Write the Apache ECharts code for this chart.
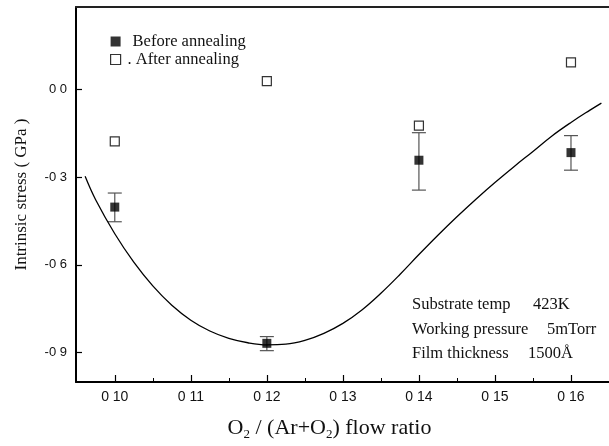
<!DOCTYPE html>
<html>
<head>
<meta charset="utf-8">
<style>
  html, body { margin: 0; padding: 0; background: #fff; }
  #chart { width: 609px; height: 446px; }
</style>
<script src="https://cdn.jsdelivr.net/npm/echarts@6/dist/echarts.min.js"></script>
</head>
<body>
<div id="chart"></div>
<script>
// O2 flow ratio for the measured samples
var ratios = [0.10, 0.12, 0.14, 0.16]
var beforeStress = [-0.403, -0.868, -0.243, -0.217]
var beforeHigh = [-0.355, -0.845, -0.149, -0.159]
var beforeLow = [-0.453, -0.893, -0.345, -0.277]
var afterStress = [-0.179, 0.027, -0.125, 0.091]

// fitted curve
var fitX = [0.0961, 0.0975, 0.1000, 0.1025, 0.1050, 0.1075, 0.1100, 0.1125, 0.1150, 0.1175, 0.1200, 0.1225, 0.1250, 0.1275, 0.1300,
  0.1325, 0.1350, 0.1375, 0.1400, 0.1425, 0.1450, 0.1475, 0.1500, 0.1525, 0.1550, 0.1575, 0.1600, 0.1625, 0.1640]
var fitY = [-0.298, -0.379, -0.494, -0.591, -0.672, -0.738, -0.789, -0.826, -0.851, -0.866, -0.873, -0.871, -0.858, -0.834, -0.800,
  -0.754, -0.697, -0.633, -0.565, -0.499, -0.436, -0.376, -0.319, -0.265, -0.213, -0.160, -0.114, -0.072, -0.048]

var xTicks = [0.10, 0.11, 0.12, 0.13, 0.14, 0.15, 0.16]
var xTickLabels = ['0 10', '0 11', '0 12', '0 13', '0 14', '0 15', '0 16']
var xMinorTicks = [0.105, 0.115, 0.125, 0.135, 0.145, 0.155]
var yTicks = [-0.9, -0.6, -0.3, 0.0]
var yTickLabels = ['-0 9', '-0 6', '-0 3', '0 0']

var serif = '"Liberation Serif", "DejaVu Serif", serif'
var sans = '"Liberation Sans", Arial, sans-serif'

function labelFor(ticks, labels) {
  return function (v) {
    for (var i = 0; i < ticks.length; i++) {
      if (Math.abs(ticks[i] - v) < 1e-6) return labels[i]
    }
    return ''
  }
}

var chart = echarts.init(document.getElementById('chart'))

chart.setOption({
  animation: false,
  grid: { left: 76, right: 0, top: 7, bottom: 60 },
  legend: {
    orient: 'vertical',
    left: 105,
    top: 28,
    itemWidth: 10,
    itemHeight: 10,
    itemGap: 1,
    textStyle: {
      fontFamily: serif, fontSize: 16.5, color: '#111',
      rich: {
        b: { fontFamily: serif, fontSize: 16.5, color: '#111', padding: [0, 0, 0, 7] },
        a: { fontFamily: serif, fontSize: 16.5, color: '#111', padding: [0, 0, 0, 2] }
      }
    },
    formatter: function (name) {
      return name === 'After annealing' ? '{a|. After annealing}' : '{b|' + name + '}'
    },
    data: [
      { name: 'Before annealing', icon: 'rect', itemStyle: { color: '#000' } },
      { name: 'After annealing', icon: 'rect', itemStyle: { color: '#fff', borderColor: '#000', borderWidth: 1.2 } }
    ]
  },
  xAxis: [
    {
      type: 'value',
      position: 'bottom',
      min: 0.0949,
      max: 0.165,
      axisLine: { onZero: false, lineStyle: { color: '#000', width: 2 } },
      axisTick: { inside: true, length: 7, customValues: xTicks, lineStyle: { color: '#000', width: 1.2 } },
      axisLabel: {
        customValues: xTicks,
        formatter: labelFor(xTicks, xTickLabels),
        fontFamily: sans, fontSize: 14, color: '#111', margin: 8
      },
      splitLine: { show: false },
      name: 'O{sub|2} / (Ar+O{sub|2}) flow ratio',
      nameLocation: 'middle',
      nameGap: 34,
      nameTextStyle: {
        fontFamily: serif, fontSize: 22, color: '#111', padding: [0, 26, 0, 0],
        rich: { sub: { fontFamily: serif, fontSize: 13, color: '#111', verticalAlign: 'bottom', padding: [12, 0, 0, 0] } }
      }
    },
    {
      type: 'value',
      position: 'bottom',
      min: 0.0949,
      max: 0.165,
      axisLine: { show: false, onZero: false },
      axisTick: { inside: true, length: 4, customValues: xMinorTicks, lineStyle: { color: '#000', width: 1 } },
      axisLabel: { show: false },
      splitLine: { show: false }
    },
    {
      type: 'value',
      position: 'top',
      min: 0.0949,
      max: 0.165,
      axisLine: { onZero: false, lineStyle: { color: '#222', width: 2 } },
      axisTick: { show: false },
      axisLabel: { show: false },
      splitLine: { show: false }
    }
  ],
  yAxis: {
    type: 'value',
    min: -1.0,
    max: 0.28,
    axisLine: { show: true, onZero: false, lineStyle: { color: '#000', width: 2 } },
    axisTick: { inside: true, length: 6, customValues: yTicks, lineStyle: { color: '#000', width: 1.2 } },
    axisLabel: {
      customValues: yTicks,
      formatter: labelFor(yTicks, yTickLabels),
      fontFamily: sans, fontSize: 13, color: '#111', margin: 9
    },
    splitLine: { show: false },
    name: 'Intrinsic stress ( GPa )',
    nameLocation: 'middle',
    nameGap: 46,
    nameTextStyle: { fontFamily: serif, fontSize: 17, color: '#111' }
  },
  graphic: [
    { type: 'text', x: 412, y: 305, style: { text: 'Substrate temp', font: '16.5px ' + serif, fill: '#111', verticalAlign: 'middle' } },
    { type: 'text', x: 533, y: 305, style: { text: '423K', font: '16.5px ' + serif, fill: '#111', verticalAlign: 'middle' } },
    { type: 'text', x: 412, y: 330, style: { text: 'Working pressure', font: '16.5px ' + serif, fill: '#111', verticalAlign: 'middle' } },
    { type: 'text', x: 547, y: 330, style: { text: '5mTorr', font: '16.5px ' + serif, fill: '#111', verticalAlign: 'middle' } },
    { type: 'text', x: 412, y: 354, style: { text: 'Film thickness', font: '16.5px ' + serif, fill: '#111', verticalAlign: 'middle' } },
    { type: 'text', x: 528, y: 354, style: { text: '1500Å', font: '16.5px ' + serif, fill: '#111', verticalAlign: 'middle' } }
  ],
  series: [
    {
      name: 'Fit',
      type: 'line',
      smooth: 0.4,
      showSymbol: false,
      symbol: 'none',
      lineStyle: { color: '#000', width: 1.3 },
      data: fitX.map(function (x, i) { return [x, fitY[i]] })
    },
    {
      name: 'Error',
      type: 'custom',
      renderItem: function (params, api) {
        var x = api.value(0)
        var top = api.coord([x, api.value(1)])
        var bot = api.coord([x, api.value(2)])
        var w = 7
        var st = { stroke: '#555', lineWidth: 1.2 }
        return {
          type: 'group',
          children: [
            { type: 'line', shape: { x1: top[0], y1: top[1], x2: bot[0], y2: bot[1] }, style: st },
            { type: 'line', shape: { x1: top[0] - w, y1: top[1], x2: top[0] + w, y2: top[1] }, style: st },
            { type: 'line', shape: { x1: bot[0] - w, y1: bot[1], x2: bot[0] + w, y2: bot[1] }, style: st }
          ]
        }
      },
      data: ratios.map(function (x, i) { return [x, beforeHigh[i], beforeLow[i]] }),
      z: 2
    },
    {
      name: 'Before annealing',
      type: 'scatter',
      symbol: 'rect',
      symbolSize: 9,
      itemStyle: { color: '#000' },
      data: ratios.map(function (x, i) { return [x, beforeStress[i]] }),
      z: 3
    },
    {
      name: 'After annealing',
      type: 'scatter',
      symbol: 'rect',
      symbolSize: 9,
      itemStyle: { color: '#fff', borderColor: '#000', borderWidth: 1.2 },
      data: ratios.map(function (x, i) { return [x, afterStress[i]] }),
      z: 3
    }
  ]
})
</script>
</body>
</html>
